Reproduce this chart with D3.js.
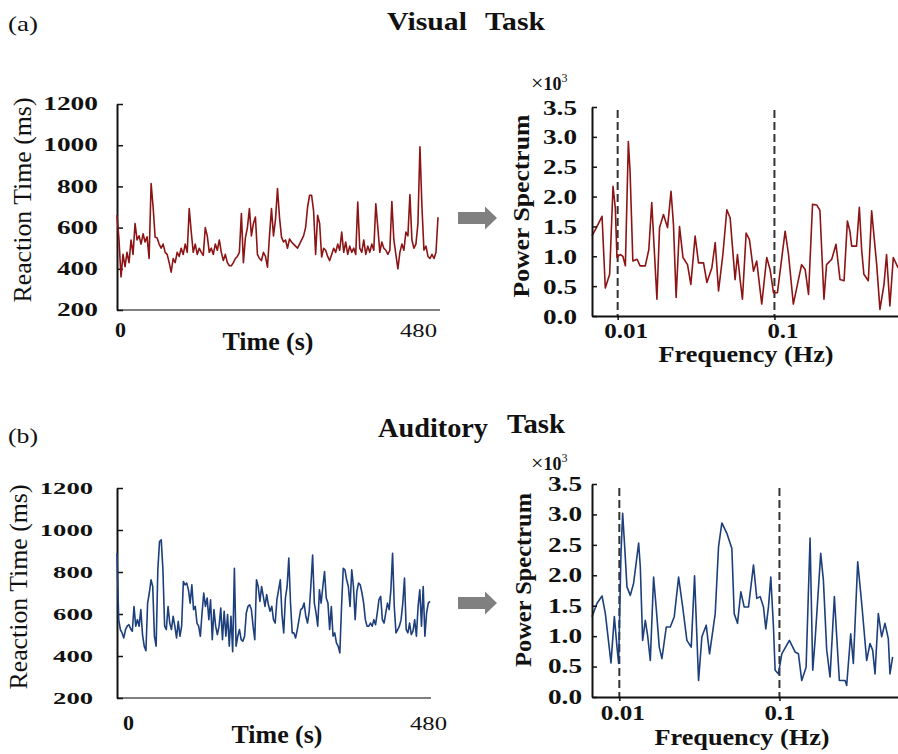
<!DOCTYPE html>
<html><head><meta charset="utf-8">
<script src="https://cdn.jsdelivr.net/npm/d3@7"></script>
<style>body{margin:0;background:#fff} text{font-family:"Liberation Serif","Times New Roman",Times,serif}</style>
</head><body>
<script>
// ---------------- DATA ----------------
const rtTicks = [200, 400, 600, 800, 1000, 1200];
const timeTicks = [0, 480];
const powerTicks = [0, 0.5, 1.0, 1.5, 2.0, 2.5, 3.0, 3.5];
const freqTicks = [0.01, 0.1];
const bandEdges = [0.01, 0.1];

// Visual task reaction times (ms), evenly spaced over 0..480 s
const visualRT = [660,540,360,470,410,480,430,540,470,620,540,560,520,570,530,555,450,814,700,554,
550,520,500,520,480,470,430,384,450,430,480,460,500,470,520,480,692,580,480,520,
470,500,480,465,600,560,480,500,470,520,490,540,480,440,470,430,415,415,430,450,
460,480,668,430,550,600,692,560,620,651,470,450,440,480,460,408,560,692,560,640,
789,650,554,530,540,500,545,530,520,510,500,520,540,560,600,700,757,757,680,470,
660,620,457,500,490,460,440,470,500,480,520,490,578,480,530,470,510,480,500,470,
724,500,480,540,470,510,480,520,490,716,600,480,530,500,490,470,490,727,540,470,
400,480,520,490,578,560,760,540,500,520,620,992,700,490,510,460,450,470,450,480,650];

// Auditory task reaction times (ms), evenly spaced over 0..480 s
const auditoryRT = [889,573,525,510,486,526,542,549,530,518,636,542,573,542,621,502,447,425,652,700,
763,731,494,447,810,945,953,810,542,526,636,557,526,589,542,486,565,494,542,755,
739,747,715,652,739,621,636,557,542,494,605,700,636,676,573,668,478,621,542,502,
542,628,478,613,494,597,447,589,420,818,447,494,526,478,470,494,605,636,644,621,
542,478,763,731,660,731,684,636,692,644,613,636,573,557,668,715,763,597,510,676,
731,866,652,510,510,486,526,573,621,628,652,589,557,613,739,881,652,605,542,715,
652,731,802,676,652,526,636,494,510,462,447,415,636,818,810,763,731,636,810,731,
573,708,747,739,700,652,573,542,542,557,542,573,549,605,668,684,573,557,605,652,
621,715,889,636,510,526,542,573,652,771,526,510,557,502,518,573,494,636,715,542,
731,494,605,652,660];

// Visual task power spectrum (x10^3)
const visualFreq = [0.00686,0.00739,0.00795,0.00834,0.00889,0.00934,0.00966,0.0099,0.0104,0.0108,
0.0112,0.0117,0.0120,0.0125,0.0133,0.0139,0.0150,0.0158,0.0165,0.0171,
0.0178,0.0185,0.0196,0.0208,0.0219,0.0227,0.0236,0.0248,0.0261,0.0279,
0.0293,0.0312,0.0328,0.0353,0.0371,0.0399,0.0419,0.0440,0.0469,0.0497,
0.0522,0.0561,0.0581,0.0604,0.0625,0.0660,0.0693,0.0735,0.0771,0.0830,
0.0893,0.0938,0.0986,0.1045,0.117,0.123,0.132,0.149,0.157,0.165,
0.175,0.186,0.195,0.207,0.215,0.232,0.247,0.262,0.278,0.292,
0.303,0.311,0.334,0.348,0.360,0.372,0.397,0.417,0.449,0.471,
0.500,0.519,0.545,0.573,0.614];
const visualPower = [1.34,1.5,1.67,0.47,0.70,2.17,1.81,0.98,1.03,1.0,
0.84,2.92,2.42,0.92,0.95,0.84,0.84,1.11,1.9,1.14,
0.28,1.48,1.7,1.48,2.09,1.53,0.31,1.5,0.98,0.86,
0.53,1.34,0.89,0.89,0.56,0.81,1.23,0.42,1.03,1.78,
1.64,0.61,1.03,0.61,0.28,1.39,1.28,0.75,0.92,0.2,
0.98,0.78,0.39,0.39,1.42,1.03,0.2,0.86,0.78,0.36,
1.87,1.86,1.77,0.28,0.86,0.95,1.2,0.61,0.59,1.59,
1.42,1.17,1.17,1.82,1.11,0.70,0.59,1.76,0.86,0.11,
0.53,1.03,0.17,0.98,0.81];

// Auditory task power spectrum (x10^3)
const auditoryFreq = [0.00675,0.00726,0.00780,0.00818,0.00887,0.00931,0.00967,0.00990,0.01024,0.01049,
0.01080,0.01116,0.01171,0.01228,0.01320,0.01352,0.01398,0.01453,0.01502,0.01561,
0.01637,0.01701,0.01776,0.01845,0.01964,0.02080,0.02203,0.02345,0.02495,0.02642,
0.02812,0.02950,0.03125,0.03278,0.03488,0.03660,0.03970,0.04165,0.04369,0.04694,
0.05044,0.05216,0.05470,0.05740,0.06021,0.06409,0.06884,0.07221,0.07576,0.07947,
0.08218,0.08538,0.08829,0.09175,0.09397,0.09858,0.1034,0.1154,0.1252,0.1314,
0.1378,0.1467,0.1553,0.1614,0.1669,0.1810,0.1881,0.1973,0.2070,0.2203,
0.2279,0.2367,0.2568,0.2630,0.2786,0.2894,0.3081,0.3263,0.3505,0.3677,
0.3820,0.3952,0.4145,0.4347,0.4560,0.4784,0.4900,0.5092];
const auditoryPower = [1.32,1.54,1.66,1.37,0.56,1.32,0.82,0.55,2.36,3.02,
2.47,1.81,1.67,1.87,2.53,2.14,0.93,1.26,1.01,0.60,
1.97,1.45,0.82,0.63,1.15,1.15,1.32,1.97,1.45,0.93,
0.82,1.99,0.27,0.99,1.18,0.71,1.37,2.47,2.86,2.69,
2.44,1.37,1.21,1.73,1.48,1.48,2.17,1.62,1.65,1.48,
1.12,1.48,1.97,1.15,0.44,0.38,0.71,0.93,0.74,0.71,
0.27,0.49,2.61,0.44,0.93,2.36,1.92,0.77,0.33,1.65,
0.99,0.27,0.27,0.19,1.04,0.55,2.22,1.54,0.60,0.88,
0.77,0.38,1.37,0.99,1.21,0.96,0.38,0.66];

const RED = "#8c1414", BLUE = "#1d3f7c";
const SERIF = '"Liberation Serif","Times New Roman",Times,serif';

// ---------------- DRAW ----------------
const svg = d3.select("body").append("svg").attr("width", 898).attr("height", 754);

function txt(o) {
  const t = svg.append("text").text(o.t).attr("font-family", SERIF)
    .attr("font-size", o.size).attr("font-weight", o.w || "bold")
    .attr("text-anchor", o.anchor || "middle").attr("fill", "#111");
  if (o.rot) t.attr("transform", `translate(${o.x},${o.y}) rotate(-90)`);
  else t.attr("x", o.x).attr("y", o.y);
  if (o.len) t.attr("textLength", o.len).attr("lengthAdjust", "spacingAndGlyphs");
  return t;
}

// panel labels & titles
txt({t: "(a)", x: 8, y: 31, size: 21, w: "normal", anchor: "start", len: 30});
txt({t: "(b)", x: 8, y: 443, size: 21, w: "normal", anchor: "start", len: 30});
txt({t: "Visual", x: 387, y: 30, size: 26, anchor: "start", len: 80});
txt({t: "Task", x: 485, y: 30, size: 26, anchor: "start", len: 60});
txt({t: "Auditory", x: 378, y: 437, size: 28, anchor: "start", len: 110});
txt({t: "Task", x: 507, y: 433, size: 28, anchor: "start", len: 58});

function rtPanel(c) {
  const x = d3.scaleLinear().domain([0, 480]).range([c.x0, c.x1]);
  const y = d3.scaleLinear().domain([200, 1200]).range([c.yb, c.yt]);
  const g = svg.append("g");
  // bottom axis line
  g.append("line").attr("x1", c.x0).attr("x2", c.axisEnd).attr("y1", c.yb).attr("y2", c.yb)
    .attr("stroke", "#555").attr("stroke-width", 1.5);
  // y axis
  const ya = g.append("g").attr("transform", `translate(${c.x0},0)`)
    .call(d3.axisLeft(y).tickValues(rtTicks).tickFormat(d3.format("d"))
      .tickSize(-6).tickSizeOuter(0).tickPadding(c.pad));
  ya.select(".domain").attr("stroke", "#111").attr("stroke-width", 2);
  ya.selectAll(".tick line").attr("stroke", "#111").attr("stroke-width", 1.5);
  ya.selectAll(".tick text").attr("font-family", SERIF).attr("font-size", c.tf)
    .attr("font-weight", "bold").attr("fill", "#111")
    .each(function(d) { d3.select(this).attr("textLength", String(d).length * c.dw)
      .attr("lengthAdjust", "spacingAndGlyphs"); });
  // x tick labels
  const xa = g.append("g").attr("transform", `translate(0,${c.yb})`)
    .call(d3.axisBottom(x).tickValues(timeTicks).tickFormat(d3.format("d")).tickSize(0));
  xa.select(".domain").remove();
  xa.selectAll(".tick text").attr("font-family", SERIF).attr("fill", "#111")
    .attr("dy", null).attr("y", c.xly)
    .each(function(d) {
      const s = d3.select(this);
      if (d === 0) s.attr("font-size", 22).attr("font-weight", "bold").attr("dx", c.dx0);
      else s.attr("font-size", 19).attr("font-weight", "normal").attr("dx", c.dx1)
        .attr("textLength", 37).attr("lengthAdjust", "spacingAndGlyphs");
    });
  // line
  const step = 480 / (c.data.length - 1);
  g.append("path").datum(c.data)
    .attr("d", d3.line().x((d, i) => x(i * step)).y(d => y(d)))
    .attr("fill", "none").attr("stroke", c.color).attr("stroke-width", 1.6)
    .attr("stroke-linejoin", "round");
  txt({t: "Reaction Time (ms)", x: c.ylx, y: c.yly, size: 25, w: "normal", rot: true, len: 205});
  txt({t: "Time (s)", x: c.xtx, y: c.xty, size: 25, len: 91});
}

function specPanel(c) {
  const x = d3.scaleLog().domain(c.dom).range([592, 898]);
  const y = d3.scaleLinear().domain([0, 3.5]).range([c.yb, c.yt]);
  const g = svg.append("g");
  // dashed band edges
  g.selectAll("line.band").data(bandEdges).enter().append("line")
    .attr("x1", d => x(d)).attr("x2", d => x(d)).attr("y1", c.dTop).attr("y2", c.yb + 1)
    .attr("stroke", "#333").attr("stroke-width", 2).attr("stroke-dasharray", "8,4");
  // line
  const pts = c.f.map((f, i) => [f, c.p[i]]);
  g.append("path").datum(pts)
    .attr("d", d3.line().x(d => x(d[0])).y(d => y(d[1])))
    .attr("fill", "none").attr("stroke", c.color).attr("stroke-width", 1.6)
    .attr("stroke-linejoin", "round");
  // y axis
  const ya = g.append("g").attr("transform", "translate(592,0)")
    .call(d3.axisLeft(y).tickValues(powerTicks).tickFormat(d3.format(".1f"))
      .tickSize(-5).tickSizeOuter(0).tickPadding(c.pad));
  ya.select(".domain").attr("stroke", "#111").attr("stroke-width", 2);
  ya.selectAll(".tick line").attr("stroke", "#111").attr("stroke-width", 1.5);
  ya.selectAll(".tick text").attr("font-family", SERIF).attr("font-size", c.tf)
    .attr("font-weight", "bold").attr("fill", "#111")
    .attr("textLength", 34).attr("lengthAdjust", "spacingAndGlyphs");
  // x axis
  const xa = g.append("g").attr("transform", `translate(0,${c.yb})`)
    .call(d3.axisBottom(x).tickValues(freqTicks).tickFormat(d => d === 0.01 ? "0.01" : "0.1")
      .tickSize(4).tickSizeOuter(0));
  xa.select(".domain").attr("stroke", "#111").attr("stroke-width", 2);
  xa.selectAll(".tick line").attr("stroke", "#111").attr("stroke-width", 1.5);
  xa.selectAll(".tick text").attr("font-family", SERIF).attr("font-size", c.tf)
    .attr("font-weight", "bold").attr("fill", "#111")
    .attr("dy", null).attr("y", c.xly)
    .each(function(d) {
      d3.select(this).attr("dx", d === 0.01 ? c.dx0 : c.dx1)
        .attr("textLength", d === 0.01 ? 44 : 31).attr("lengthAdjust", "spacingAndGlyphs");
    });
  // x10^3
  const m = svg.append("text").attr("x", 531).attr("y", c.my).attr("font-family", SERIF)
    .attr("font-size", 20).attr("fill", "#111");
  m.append("tspan").text("×").attr("font-weight", "normal").attr("font-size", 22);
  m.append("tspan").text("10").attr("font-weight", "bold").attr("font-size", 18);
  m.append("tspan").text("3").attr("font-size", 12).attr("dy", -8);
  txt({t: "Power Spectrum", x: c.ylx, y: c.yly, size: 24, rot: true, len: c.yll});
  txt({t: "Frequency (Hz)", x: c.xtx, y: c.xty, size: 24, len: 175});
  // arrow
  const ay = c.ay;
  svg.append("path")
    .attr("d", `M458,${ay - 6}L485,${ay - 6}L485,${ay - 11.5}L497,${ay}L485,${ay + 11.5}L485,${ay + 6}L458,${ay + 6}Z`)
    .attr("fill", "#808080");
}

rtPanel({x0: 117, x1: 438, axisEnd: 440, yb: 310, yt: 104, color: RED, data: visualRT,
  pad: 19, dw: 13.7, tf: 18, xly: 27, dx0: 3, dx1: -20, ylx: 31, yly: 200, xtx: 268, xty: 350});
rtPanel({x0: 117, x1: 430, axisEnd: 431, yb: 698, yt: 488, color: BLUE, data: auditoryRT,
  pad: 24, dw: 13.3, tf: 17, xly: 32, dx0: 11, dx1: -2, ylx: 27, yly: 587, xtx: 277, xty: 743});

specPanel({dom: [0.00686, 0.614], yb: 316, yt: 107, dTop: 110, color: RED,
  f: visualFreq, p: visualPower, pad: 15, tf: 22, xly: 22, dx0: 8, dx1: 8,
  my: 90, ylx: 529, yly: 206, yll: 183, xtx: 746, xty: 362, ay: 218});
specPanel({dom: [0.00675, 0.55], yb: 697, yt: 484, dTop: 488, color: BLUE,
  f: auditoryFreq, p: auditoryPower, pad: 10, tf: 20, xly: 23, dx0: 3, dx1: 0,
  my: 470, ylx: 531, yly: 580, yll: 174, xtx: 742, xty: 745, ay: 603});
</script>
</body></html>
